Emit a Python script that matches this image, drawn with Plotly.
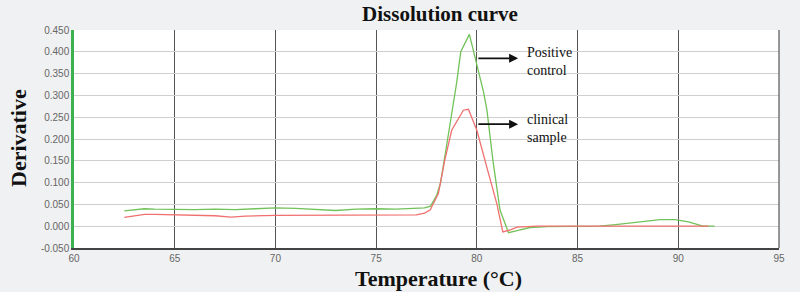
import plotly.graph_objects as go

# Positive control (green)
pc_temp = [62.5, 63.0, 63.5, 64.0, 65.0, 66.0, 67.0, 68.0, 69.0, 70.0, 71.0, 72.0, 73.0, 74.0, 74.5, 75.0, 76.0,
           77.0, 77.4, 77.7, 78.0, 78.2, 78.5, 78.7, 79.0, 79.2, 79.63, 80.0, 80.33, 80.5, 80.8, 81.15, 81.57,
           82.0, 82.64, 83.5, 85.0, 86.1, 87.0, 88.0, 89.1, 89.85, 90.5, 91.23, 91.8]
pc_val = [0.035, 0.037, 0.040, 0.039, 0.038, 0.038, 0.039, 0.038, 0.040, 0.042, 0.041, 0.039, 0.036, 0.039, 0.040, 0.040, 0.039,
          0.040, 0.042, 0.046, 0.070, 0.100, 0.180, 0.243, 0.330, 0.400, 0.440, 0.373, 0.308, 0.266, 0.150, 0.037, -0.015,
          -0.010, -0.003, -0.001, 0.000, 0.000, 0.004, 0.009, 0.015, 0.015, 0.010, 0.000, 0.000]

# Clinical sample (red)
cs_temp = [62.5, 63.0, 63.5, 64.0, 65.0, 66.0, 67.0, 67.8, 68.5, 70.0, 71.0, 72.0, 73.0, 74.0, 75.0, 76.0, 77.0,
           77.4, 77.68, 78.09, 78.4, 78.75, 79.13, 79.33, 79.58, 80.0, 80.49, 80.99, 81.29, 81.7, 82.0, 83.0,
           85.0, 87.0, 89.0, 90.0, 91.5]
cs_val = [0.020, 0.024, 0.027, 0.027, 0.026, 0.025, 0.024, 0.021, 0.023, 0.025, 0.025, 0.025, 0.026, 0.026, 0.025, 0.026, 0.026,
          0.030, 0.037, 0.075, 0.150, 0.220, 0.250, 0.266, 0.268, 0.220, 0.136, 0.052, -0.013, -0.008, -0.002, 0.000,
          0.000, 0.000, 0.000, 0.000, 0.000]

x_ticks = [60, 65, 70, 75, 80, 85, 90, 95]
y_ticks = [-0.05, 0.0, 0.05, 0.10, 0.15, 0.20, 0.25, 0.30, 0.35, 0.40, 0.45]

fig = go.Figure()
fig.add_trace(go.Scatter(x=pc_temp, y=pc_val, mode="lines",
                         line=dict(color="#72c25a", width=1.3), name="Positive control"))
fig.add_trace(go.Scatter(x=cs_temp, y=cs_val, mode="lines",
                         line=dict(color="#f07070", width=1.3), name="clinical sample"))

serif = "Liberation Serif, Times New Roman, serif"
W, H = 800, 292
L, R, T, B = 74, 21, 30, 44
fig.update_layout(
    width=W, height=H,
    paper_bgcolor="#f0f1f2", plot_bgcolor="#ffffff",
    margin=dict(l=L, r=R, t=T, b=B),
    showlegend=False,
    title=dict(text="<b>Dissolution curve</b>", x=440/W, xanchor="center",
               y=1 - 14/H, yanchor="middle",
               font=dict(family=serif, size=21, color="#111")),
    xaxis=dict(range=[60, 95], tickvals=x_ticks, ticktext=[str(v) for v in x_ticks],
               showgrid=True, gridcolor="#555555", gridwidth=1,
               showline=True, linecolor="#444444", linewidth=1.5,
               zeroline=False, ticks="", automargin=False,
               tickfont=dict(family="Liberation Sans, Arial, sans-serif", size=10, color="#666")),
    yaxis=dict(range=[-0.05, 0.45], tickvals=y_ticks, ticktext=[f"{v:.3f}" for v in y_ticks],
               showgrid=True, gridcolor="#cfcfcf", gridwidth=1.2,
               showline=True, linecolor="#3db14e", linewidth=2.5,
               zeroline=False, ticks="", automargin=False,
               tickfont=dict(family="Liberation Sans, Arial, sans-serif", size=10, color="#666")),
)

# axis titles as paper annotations
fig.add_annotation(x=(438 - L) / (W - L - R), y=-(278 - (H - B)) / (H - T - B),
                   xref="paper", yref="paper", xanchor="center", yanchor="middle",
                   showarrow=False, text="<b>Temperature (°C)</b>",
                   font=dict(family=serif, size=22, color="#111"))
fig.add_annotation(x=-(L - 18) / (W - L - R), y=((H - B) - 138) / (H - T - B),
                   xref="paper", yref="paper", xanchor="center", yanchor="middle",
                   showarrow=False, text="<b>Derivative</b>", textangle=-90,
                   font=dict(family=serif, size=22, color="#111"))

# right border
fig.add_shape(type="line", xref="paper", yref="paper", x0=1, x1=1, y0=0, y1=1,
              line=dict(color="#555555", width=1.2))

# arrows
fig.add_annotation(x=82.05, y=0.385, ax=80.0, ay=0.385, xref="x", yref="y", axref="x", ayref="y",
                   showarrow=True, arrowhead=2, arrowsize=1, arrowwidth=1.8, arrowcolor="#111", text="")
fig.add_annotation(x=82.05, y=0.234, ax=80.0, ay=0.234, xref="x", yref="y", axref="x", ayref="y",
                   showarrow=True, arrowhead=2, arrowsize=1, arrowwidth=1.8, arrowcolor="#111", text="")
fig.add_annotation(x=82.4, y=0.377, xref="x", yref="y", xanchor="left", yanchor="middle",
                   showarrow=False, align="left", text="Positive<br>control",
                   font=dict(family=serif, size=14, color="#111"))
fig.add_annotation(x=82.4, y=0.225, xref="x", yref="y", xanchor="left", yanchor="middle",
                   showarrow=False, align="left", text="clinical<br>sample",
                   font=dict(family=serif, size=14, color="#111"))

fig.write_html("out.html", config={"displayModeBar": False},
               post_script="document.body.style.margin='0';document.body.style.background='#f0f1f2';")
